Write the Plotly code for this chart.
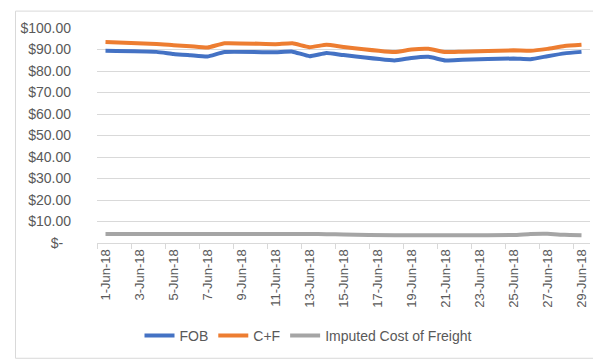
import plotly.graph_objects as go
from datetime import datetime, timedelta

dates = ["2018-06-01", "2018-06-04", "2018-06-05", "2018-06-06", "2018-06-07", "2018-06-08",
         "2018-06-11", "2018-06-12", "2018-06-13", "2018-06-14", "2018-06-15",
         "2018-06-18", "2018-06-19", "2018-06-20", "2018-06-21", "2018-06-22",
         "2018-06-25", "2018-06-26", "2018-06-27", "2018-06-28", "2018-06-29"]
fob = [89.4, 88.9, 87.9, 87.3, 86.7, 88.8,
       88.7, 89.0, 86.9, 88.4, 87.4,
       84.9, 86.1, 86.6, 84.9, 85.2,
       85.8, 85.5, 86.9, 88.2, 88.9]
cf = [93.5, 92.6, 92.0, 91.5, 90.9, 92.9,
      92.5, 92.9, 91.1, 92.2, 91.2,
      88.8, 90.0, 90.3, 88.8, 89.0,
      89.6, 89.4, 90.3, 91.6, 92.2]
freight = [4.2, 4.2, 4.2, 4.2, 4.2, 4.2,
           4.2, 4.2, 4.2, 4.1, 4.0,
           3.6, 3.6, 3.6, 3.6, 3.6,
           3.7, 4.2, 4.3, 3.8, 3.6]
label_dates = ["2018-06-%02d" % d for d in range(1, 30, 2)]
label_text = ["%d-Jun-18" % d for d in range(1, 30, 2)]
y_vals = list(range(0, 101, 10))
y_text = ["$-\u00a0\u00a0"] + ["$%d.00" % v for v in y_vals[1:]]

fig = go.Figure()
series = [("FOB", fob, "#4472C4"), ("C+F", cf, "#ED7D31"),
          ("Imputed Cost of Freight", freight, "#A5A5A5")]
for name, vals, col in series:
    fig.add_trace(go.Scatter(x=dates, y=vals, name=name, mode="lines",
                             line=dict(color=col, width=4, shape="spline", smoothing=0.4)))

start = datetime(2018, 5, 31, 12)
minor_ticks = [(start + timedelta(days=2 * i)).strftime("%Y-%m-%d %H:%M") for i in range(15)]

font = dict(family="Liberation Sans, Arial", size=13, color="#595959")
yfont = dict(family="Liberation Sans, Arial", size=14, color="#595959")
lfont = dict(family="Liberation Sans, Arial", size=14, color="#595959")
L, R, T, B = 83, 19, 18, 120
W, H = 601 - L - R, 361 - T - B
fig.update_layout(
    width=601, height=361,
    margin=dict(l=L, r=R, t=T, b=B),
    paper_bgcolor="white", plot_bgcolor="white",
    font=font,
    showlegend=True,
    legend=dict(orientation="h", xref="container", yref="container", x=0.5, y=0.092,
                xanchor="center", yanchor="middle", font=lfont, itemwidth=30),
    xaxis=dict(type="date", range=["2018-05-31 12:00", "2018-06-29 12:00"],
               tickmode="array", tickvals=label_dates, ticktext=label_text,
               tickangle=-90, ticks="", showgrid=False,
               showline=True, linecolor="#D9D9D9", linewidth=1,
               minor=dict(tickmode="array", tickvals=minor_ticks, ticks="outside",
                          ticklen=5, tickcolor="#D9D9D9", showgrid=False),
               tickfont=font, fixedrange=True),
    yaxis=dict(range=[0, 100], tickmode="array", tickvals=y_vals, ticktext=y_text,
               showgrid=True, gridcolor="#D9D9D9", gridwidth=1, zeroline=False,
               ticks="", ticklabelstandoff=25, tickfont=yfont, fixedrange=True),
    shapes=[dict(type="rect", xref="paper", yref="paper",
                 x0=-(L - 0.5) / W, x1=1 + (R - 0.5) / W,
                 y0=-(B - 0.5) / H, y1=1 + (T - 0.5) / H,
                 line=dict(color="#D9D9D9", width=1), layer="below")],
)
fig.write_html("out.html")
